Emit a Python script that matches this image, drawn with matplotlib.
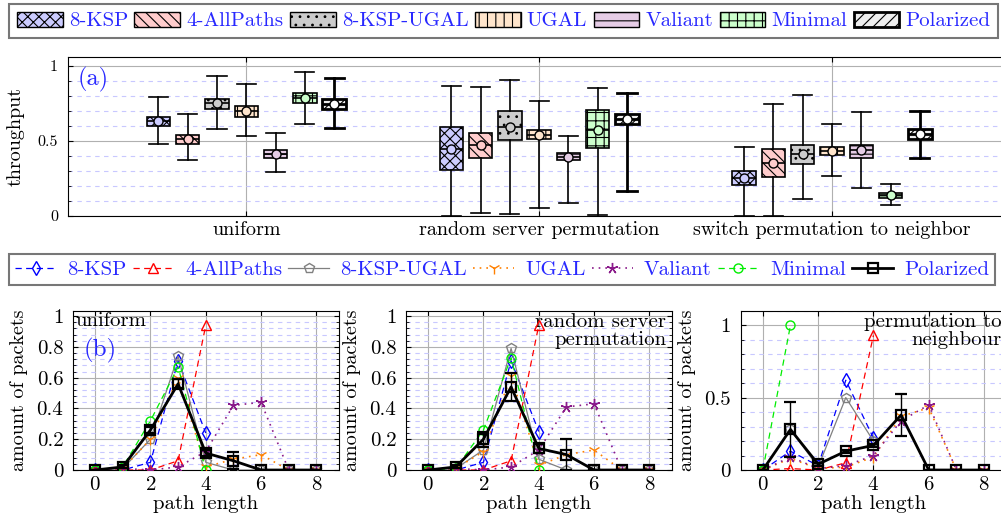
import numpy as np
import matplotlib
matplotlib.use('Agg')
import matplotlib.pyplot as plt
from matplotlib.patches import Patch
from matplotlib.lines import Line2D
from matplotlib.ticker import MultipleLocator, FuncFormatter

plt.rcParams['font.family'] = ['cmr10', 'DejaVu Serif']
plt.rcParams['mathtext.fontset'] = 'cm'
plt.rcParams['axes.formatter.use_mathtext'] = True
plt.rcParams['hatch.linewidth'] = 0.8

schemes = ['8-KSP', '4-AllPaths', '8-KSP-UGAL', 'UGAL', 'Valiant', 'Minimal', 'Polarized']
patterns = ['uniform', 'random server permutation', 'switch permutation to neighbor']

# (a) throughput boxes, one tuple per scheme: (whisker low, q1, median, q3, whisker high)
thr_uniform = [(0.48, 0.60, 0.63, 0.66, 0.79), (0.375, 0.48, 0.51, 0.54, 0.68),
               (0.58, 0.71, 0.75, 0.78, 0.93), (0.53, 0.66, 0.70, 0.73, 0.88),
               (0.29, 0.385, 0.41, 0.44, 0.555), (0.61, 0.75, 0.785, 0.82, 0.96),
               (0.585, 0.71, 0.745, 0.78, 0.92)]
thr_random = [(0.0, 0.307, 0.445, 0.59, 0.867), (0.018, 0.385, 0.473, 0.555, 0.86),
              (0.016, 0.507, 0.593, 0.70, 0.907), (0.056, 0.51, 0.54, 0.573, 0.767),
              (0.087, 0.373, 0.395, 0.418, 0.536), (0.009, 0.456, 0.573, 0.707, 0.853),
              (0.165, 0.613, 0.647, 0.678, 0.818)]
thr_switch = [(0.002, 0.207, 0.253, 0.302, 0.458), (0.002, 0.262, 0.356, 0.449, 0.749),
              (0.113, 0.347, 0.413, 0.476, 0.809), (0.269, 0.404, 0.436, 0.462, 0.616),
              (0.189, 0.389, 0.44, 0.476, 0.696), (0.076, 0.12, 0.138, 0.156, 0.213),
              (0.389, 0.513, 0.547, 0.578, 0.698)]
thr_data = [thr_uniform, thr_random, thr_switch]

# (b) path length distribution, index = path length, rows follow schemes
path_uniform = [[0, 0, 0.05, 0.71, 0.24],
                [0, 0, 0, 0.06, 0.94],
                [0, 0.01, 0.2, 0.74, 0.05, 0, 0, 0, 0],
                [0, 0.01, 0.2, 0.6, 0.02, 0.07, 0.1, 0, 0],
                [0, 0.01, 0, 0.02, 0.12, 0.42, 0.44, 0, 0],
                [0, 0.02, 0.32, 0.67, 0],
                [0, 0.02, 0.26, 0.56, 0.11, 0.06, 0, 0, 0]]
path_random = [[0, 0, 0.05, 0.71, 0.25],
               [0, 0, 0, 0.06, 0.94],
               [0, 0.01, 0.13, 0.79, 0.07, 0, 0, 0, 0],
               [0, 0.01, 0.12, 0.61, 0.03, 0.1, 0.13, 0, 0],
               [0, 0.01, 0, 0.02, 0.13, 0.41, 0.43, 0, 0],
               [0, 0.01, 0.26, 0.73, 0],
               [0, 0.02, 0.2, 0.54, 0.14, 0.1, 0, 0, 0]]
path_switch = [[0, 0.13, 0.03, 0.62, 0.22],
               [0, 0.01, 0, 0.05, 0.93],
               [0, 0.28, 0.02, 0.5, 0.2],
               [0, 0.08, 0.01, 0.02, 0.09, 0.37, 0.43, 0, 0],
               [0, 0.09, 0.01, 0.03, 0.1, 0.34, 0.45, 0, 0],
               [0, 1.0],
               [0, 0.28, 0.04, 0.13, 0.17, 0.38, 0, 0, 0]]
path_data = [path_uniform, path_random, path_switch]
polar_err = [[0, 0.01, 0.02, 0.03, 0.02, 0.055, 0, 0, 0],
             [0, 0.01, 0.05, 0.09, 0.03, 0.1, 0, 0, 0],
             [0, 0.19, 0.01, 0.01, 0.01, 0.145, 0, 0, 0]]
panel_titles = ['uniform', 'random server\npermutation', 'permutation to\nneighbour']

fills = ['#ccccff', '#ffcccc', '#cccccc', '#ffe5cc', '#e5cce5', '#ccffcc', '#eeeeee']
hatches = ['xxx', '\\\\\\', '..', '||', '--', '++', '///']
line_styles = [
    dict(color='#0000ff', ls=(0, (5, 3.5)), lw=0.9, marker='d', ms=7, mfc='none'),
    dict(color='#ff0000', ls=(0, (5, 3.5)), lw=0.9, marker='^', ms=6.5, mfc='none'),
    dict(color='#808080', ls='-', lw=0.9, marker='p', ms=7, mfc='none'),
    dict(color='#ff8000', ls=(0, (1, 3)), lw=1.2, marker='1', ms=9),
    dict(color='#8a1a8a', ls=(0, (1, 3)), lw=1.2, marker=(5, 2, 0), ms=8),
    dict(color='#00ee00', ls=(0, (5, 3.5)), lw=0.9, marker='o', ms=6.5, mfc='none'),
    dict(color='k', ls='-', lw=2, marker='s', ms=7.5, mfc='none', mew=1.6),
]
blue_txt = '#2828ff'
major_grid = dict(color='#b0b0b0', lw=0.8)
minor_grid = dict(color='#c8c8ff', lw=0.8, ls=(0, (4, 4)))

fig = plt.figure(figsize=(10.01, 5.13), dpi=100)

# ---- (a) throughput ----
ax_a = fig.add_axes([0.0676, 0.579, 0.942, 0.31])
offsets = (np.arange(len(schemes)) - 3) * 0.1
for i, name in enumerate(schemes):
    stats = []
    for p in range(len(patterns)):
        lo, q1, med, q3, hi = thr_data[p][i]
        stats.append(dict(whislo=lo, q1=q1, med=med, q3=q3, whishi=hi, mean=med, fliers=[]))
    lw = 2.0 if name == 'Polarized' else 1.2
    mfc = 'white' if name == 'Polarized' else fills[i]
    ax_a.bxp(stats, positions=np.arange(len(patterns)) + offsets[i], widths=0.08, capwidths=0.065,
             patch_artist=True, showmeans=True, showfliers=False, manage_ticks=False, zorder=3,
             boxprops=dict(facecolor=fills[i], edgecolor='k', hatch=hatches[i], linewidth=lw),
             whiskerprops=dict(color='k', linewidth=lw), capprops=dict(color='k', linewidth=lw),
             medianprops=dict(color='k', linewidth=lw),
             meanprops=dict(marker='o', markerfacecolor=mfc, markeredgecolor='k', markersize=6.5))
ax_a.set_xlim(-0.61, 2.61)
ax_a.set_ylim(0, 1.06)
ax_a.set_xticks(np.arange(len(patterns)))
ax_a.set_xticklabels(patterns, fontsize=14.5)
ax_a.set_yticks([0, 0.5, 1])
ax_a.yaxis.set_major_formatter(FuncFormatter(lambda v, _: '{:g}'.format(v)))
ax_a.yaxis.set_minor_locator(MultipleLocator(0.1))
ax_a.tick_params(axis='y', labelsize=11.5, pad=7)
ax_a.tick_params(axis='x', pad=3.5)
ax_a.tick_params(which='both', direction='in', top=True, right=True)
ax_a.tick_params(which='minor', length=2.5)
ax_a.grid(which='major', **major_grid)
ax_a.grid(which='minor', axis='y', **minor_grid)
ax_a.set_axisbelow(True)
ax_a.set_ylabel('throughput', fontsize=14.5)
ax_a.yaxis.set_label_coords(-0.046, 0.5)
ax_a.text(0.011, 0.86, '(a)', transform=ax_a.transAxes, color=blue_txt, fontsize=17.5,
          va='center', ha='left')

box_handles = [Patch(facecolor=fills[i], edgecolor='k', hatch=hatches[i],
                     linewidth=2.0 if n == 'Polarized' else 1.0) for i, n in enumerate(schemes)]
leg1 = fig.legend(box_handles, schemes, loc='upper left', bbox_to_anchor=(9 / 1001, 1 - 4 / 513),
                  ncol=7, fancybox=False, edgecolor='#555555', fontsize=15, labelcolor=blue_txt,
                  handlelength=2.2, handletextpad=0.29, columnspacing=0.31, borderaxespad=0,
                  borderpad=0.38)
leg1.get_frame().set_linewidth(1.5)

line_handles = [Line2D([], [], **st) for st in line_styles]
leg2 = fig.legend(line_handles, schemes, loc='upper left', bbox_to_anchor=(9 / 1001, 1 - 254 / 513),
                  ncol=7, fancybox=False, edgecolor='#555555', fontsize=15, labelcolor=blue_txt,
                  handlelength=1.97, handletextpad=0.53, columnspacing=0.3, borderaxespad=0,
                  borderpad=0.3)
leg2.get_frame().set_linewidth(1.5)

# ---- (b) path length ----
lefts = [73, 406, 740.7]
for k in range(3):
    ax = fig.add_axes([lefts[k] / 1001, 0.0838, 265.5 / 1001, 0.3105])
    for i, name in enumerate(schemes):
        y = path_data[k][i]
        x = np.arange(len(y))
        if name == 'Polarized':
            ax.errorbar(x, y, yerr=polar_err[k], ecolor='k', elinewidth=1, capsize=4, zorder=5,
                        **line_styles[i])
        else:
            ax.plot(x, y, zorder=4, **line_styles[i])
    ax.set_xlim(-0.8, 8.8)
    ax.set_xticks([0, 2, 4, 6, 8])
    if k < 2:
        ax.set_ylim(0, 1.035)
        ax.set_yticks(np.arange(0, 1.01, 0.2))
        ax.yaxis.set_minor_locator(MultipleLocator(0.04))
    else:
        ax.set_ylim(0, 1.1)
        ax.set_yticks([0, 0.5, 1])
        ax.yaxis.set_minor_locator(MultipleLocator(0.1))
    ax.yaxis.set_major_formatter(FuncFormatter(lambda v, _: '{:g}'.format(round(v, 2))))
    ax.tick_params(labelsize=15)
    ax.tick_params(axis='y', pad=7)
    ax.tick_params(axis='x', pad=4)
    ax.tick_params(which='both', direction='in', top=True, right=True)
    ax.tick_params(which='minor', length=2.5)
    ax.grid(which='major', **major_grid)
    ax.grid(which='minor', axis='y', **minor_grid)
    ax.set_axisbelow(True)
    ax.set_xlabel('path length', fontsize=15)
    ax.xaxis.set_label_coords(0.5, -0.155)
    ax.set_ylabel('amount of packets', fontsize=14.5)
    ax.yaxis.set_label_coords(-0.17, 0.5)
    if k == 0:
        ax.text(0.01, 0.99, panel_titles[k], transform=ax.transAxes, fontsize=15,
                va='top', ha='left')
        ax.text(0.04, 0.75, '(b)', transform=ax.transAxes, color=blue_txt, fontsize=18,
                va='center', ha='left')
    else:
        ax.text(0.981, 0.985, panel_titles[k], transform=ax.transAxes, fontsize=15,
                va='top', ha='right', linespacing=1.0)

fig.savefig('out.png', dpi=100)
